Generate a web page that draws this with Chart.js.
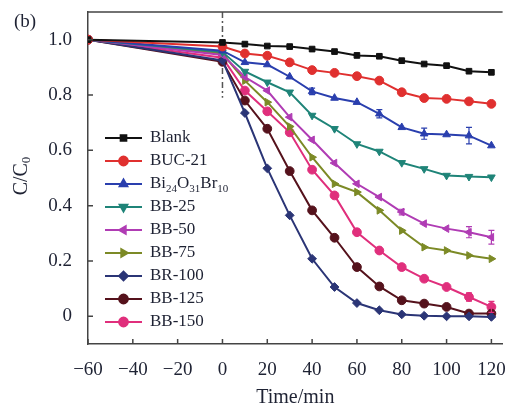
<!DOCTYPE html>
<html lang="en">
<head>
    <meta charset="UTF-8">
    <title>C/C0 vs time</title>
    <style>
        * { margin: 0; padding: 0; box-sizing: border-box; }
        body { background: #fff; }
        .wrap { position: relative; width: 508px; height: 407px; }
    </style>
    <script src="https://cdn.jsdelivr.net/npm/chart.js"></script>
</head>
<body>
    <div class="wrap">
        <canvas id="chart"></canvas>
    </div>

    <script>
        // time points (min), dark stage from -60 to 0, light on after 0
        const times = [-60, 0, 10, 20, 30, 40, 50, 60, 70, 80, 90, 100, 110, 120];

        const labels = ['Blank', 'BUC-21', 'Bi_{24}O_{31}Br_{10}', 'BB-25', 'BB-50', 'BB-75', 'BR-100', 'BB-125', 'BB-150'];

        const blank  = [1.0, 0.990, 0.984, 0.977, 0.975, 0.966, 0.957, 0.943, 0.940, 0.924, 0.912, 0.906, 0.886, 0.882];
        const buc21  = [1.0, 0.975, 0.950, 0.942, 0.918, 0.890, 0.880, 0.868, 0.852, 0.810, 0.789, 0.786, 0.777, 0.768];
        const bi24   = [1.0, 0.960, 0.918, 0.910, 0.866, 0.813, 0.789, 0.774, 0.732, 0.683, 0.660, 0.657, 0.653, 0.617];
        const bb25   = [1.0, 0.955, 0.885, 0.846, 0.810, 0.726, 0.678, 0.623, 0.596, 0.555, 0.533, 0.509, 0.505, 0.503];
        const bb50   = [1.0, 0.945, 0.865, 0.816, 0.720, 0.638, 0.554, 0.479, 0.431, 0.377, 0.335, 0.317, 0.304, 0.286];
        const bb75   = [1.0, 0.950, 0.852, 0.774, 0.686, 0.575, 0.479, 0.449, 0.383, 0.310, 0.250, 0.238, 0.220, 0.208];
        const br100  = [1.0, 0.925, 0.735, 0.535, 0.365, 0.208, 0.106, 0.048, 0.022, 0.007, 0.002, 0.000, 0.000, -0.002];
        const bb125  = [1.0, 0.920, 0.780, 0.678, 0.525, 0.383, 0.284, 0.178, 0.108, 0.058, 0.046, 0.034, 0.010, 0.010];
        const bb150  = [1.0, 0.935, 0.816, 0.741, 0.665, 0.530, 0.437, 0.304, 0.238, 0.178, 0.136, 0.106, 0.070, 0.034];

        // error bars (half height), 0 = none visible
        const errBi24  = [0, 0, 0, 0, 0, 0.012, 0, 0, 0.015, 0, 0.02, 0, 0.03, 0];
        const errBb50  = [0, 0, 0, 0, 0, 0, 0, 0, 0, 0.01, 0, 0, 0.02, 0.025];
        const errBb150 = [0, 0, 0, 0, 0, 0, 0, 0, 0, 0, 0, 0, 0.015, 0.02];

        const xTicks = [-60, -40, -20, 0, 20, 40, 60, 80, 100, 120];
        const yTicks = [0, 0.2, 0.4, 0.6, 0.8, 1.0];

        const series = [blank, buc21, bi24, bb25, bb50, bb75, br100, bb125, bb150];
        const errors = [null, null, errBi24, null, errBb50, null, null, null, errBb150];
        const colors = ['#111111', '#e0302f', '#2a3fae', '#1f8478', '#b03cb4', '#7c8a26', '#2b3576', '#55121c', '#e02f7c'];
        const shapes = ['rect', 'circle', 'triangle', 'triangle', 'triangle', 'triangle', 'rectRot', 'circle', 'circle'];
        const rots   = [0, 0, 0, 180, -90, 90, 0, 0, 0];

        const serif = "'Liberation Serif', 'DejaVu Serif', serif";
        const ink = '#1e2233';

        const datasets = series.map((vals, i) => ({
            label: labels[i],
            data: vals.map((v, j) => ({ x: times[j], y: v })),
            borderColor: colors[i],
            backgroundColor: colors[i],
            borderWidth: 2,
            pointStyle: shapes[i],
            rotation: rots[i],
            pointRadius: shapes[i] === 'rect' ? 4 : 4.4,
            pointBorderWidth: 1,
            tension: 0,
            errors: errors[i]
        }));

        function drawRich(ctx, text, x, y, size) {
            const parts = text.split(/(_\{\d+\})/).filter(p => p);
            parts.forEach(p => {
                const sub = p.match(/^_\{(\d+)\}$/);
                if (sub) {
                    ctx.font = Math.round(size * 0.62) + 'px ' + serif;
                    ctx.fillText(sub[1], x, y + size * 0.28);
                    x += ctx.measureText(sub[1]).width;
                } else {
                    ctx.font = size + 'px ' + serif;
                    ctx.fillText(p, x, y);
                    x += ctx.measureText(p).width;
                }
            });
        }

        const decor = {
            id: 'decor',
            beforeDatasetsDraw(chart) {
                const { ctx, chartArea: a, scales: { x, y } } = chart;
                ctx.save();
                // dash-dot marker at light-on
                ctx.strokeStyle = '#555';
                ctx.lineWidth = 1.5;
                ctx.setLineDash([6, 3, 2, 3]);
                ctx.beginPath();
                ctx.moveTo(x.getPixelForValue(0), a.top);
                ctx.lineTo(x.getPixelForValue(0), y.getPixelForValue(0.79));
                ctx.stroke();
                ctx.restore();
            },
            afterDatasetsDraw(chart) {
                const { ctx, chartArea: a, scales: { x, y } } = chart;
                ctx.save();

                // error bars
                chart.data.datasets.forEach(ds => {
                    if (!ds.errors) return;
                    ctx.strokeStyle = ds.borderColor;
                    ctx.lineWidth = 1.2;
                    ds.data.forEach((p, j) => {
                        const e = ds.errors[j];
                        if (!e) return;
                        const px = x.getPixelForValue(p.x);
                        const y1 = y.getPixelForValue(p.y - e), y2 = y.getPixelForValue(p.y + e);
                        ctx.beginPath();
                        ctx.moveTo(px, y1); ctx.lineTo(px, y2);
                        ctx.moveTo(px - 3, y1); ctx.lineTo(px + 3, y1);
                        ctx.moveTo(px - 3, y2); ctx.lineTo(px + 3, y2);
                        ctx.stroke();
                    });
                });

                // frame top + inward ticks
                ctx.strokeStyle = '#444';
                ctx.lineWidth = 1.5;
                ctx.beginPath();
                ctx.moveTo(a.left, a.top); ctx.lineTo(a.right, a.top);
                xTicks.forEach(t => {
                    const px = x.getPixelForValue(t);
                    ctx.moveTo(px, a.bottom); ctx.lineTo(px, a.bottom - 5);
                });
                yTicks.forEach(t => {
                    const py = y.getPixelForValue(t);
                    ctx.moveTo(a.left, py); ctx.lineTo(a.left + 5, py);
                });
                ctx.stroke();

                // legend
                ctx.textBaseline = 'middle';
                ctx.fillStyle = ink;
                chart.data.datasets.forEach((ds, i) => {
                    const ly = 138 + i * 23;
                    ctx.strokeStyle = ds.borderColor;
                    ctx.lineWidth = 2;
                    ctx.beginPath();
                    ctx.moveTo(105, ly); ctx.lineTo(142, ly);
                    ctx.stroke();
                    ctx.fillStyle = ds.backgroundColor;
                    Chart.helpers.drawPoint(ctx, {
                        pointStyle: ds.pointStyle, rotation: ds.rotation,
                        radius: ds.pointRadius, borderWidth: 1
                    }, 123.5, ly);
                    ctx.fillStyle = ink;
                    drawRich(ctx, ds.label, 150, ly, 17);
                });

                // y title with subscript
                ctx.translate(22, 176);
                ctx.rotate(-Math.PI / 2);
                ctx.font = '20px ' + serif;
                const w1 = ctx.measureText('C/C').width;
                ctx.font = '13px ' + serif;
                const w2 = ctx.measureText('0').width;
                let sx = -(w1 + w2) / 2;
                ctx.font = '20px ' + serif;
                ctx.fillText('C/C', sx, 0);
                ctx.font = '13px ' + serif;
                ctx.fillText('0', sx + w1, 5);
                ctx.restore();

                ctx.save();
                ctx.fillStyle = ink;
                ctx.font = '19px ' + serif;
                ctx.textBaseline = 'middle';
                ctx.fillText('(b)', 14, 22);
                ctx.restore();
            }
        };

        new Chart(document.getElementById('chart'), {
            type: 'line',
            data: { datasets },
            options: {
                responsive: true,
                maintainAspectRatio: false,
                animation: false,
                layout: { padding: { top: 12, right: 0, left: 0, bottom: 0 } },
                plugins: { legend: { display: false }, tooltip: { enabled: false } },
                scales: {
                    x: {
                        type: 'linear',
                        min: -60,
                        max: 125,
                        afterFit: s => { s.height = 63; s.paddingLeft = 0; s.paddingRight = 0; },
                        afterBuildTicks: s => { s.ticks = xTicks.map(v => ({ value: v })); },
                        grid: { display: false },
                        border: { display: true, color: '#444', width: 1.5 },
                        ticks: {
                            padding: 7,
                            color: ink,
                            font: { family: serif, size: 19 },
                            callback: v => v < 0 ? '\u2212' + Math.abs(v) : String(v)
                        },
                        title: {
                            display: true,
                            text: 'Time/min',
                            color: ink,
                            font: { family: serif, size: 20, lineHeight: 0.9 },
                            padding: { top: 0, bottom: 0 }
                        }
                    },
                    y: {
                        min: -0.1,
                        max: 1.1,
                        afterFit: s => { s.width = 88; s.paddingTop = 0; s.paddingBottom = 0; },
                        afterBuildTicks: s => { s.ticks = yTicks.map(v => ({ value: v })); },
                        grid: { display: false },
                        border: { display: true, color: '#444', width: 1.5 },
                        ticks: {
                            padding: 8,
                            color: ink,
                            font: { family: serif, size: 19 },
                            callback: v => v === 0 ? '0' : v.toFixed(1)
                        }
                    }
                }
            },
            plugins: [decor]
        });
    </script>
</body>
</html>
